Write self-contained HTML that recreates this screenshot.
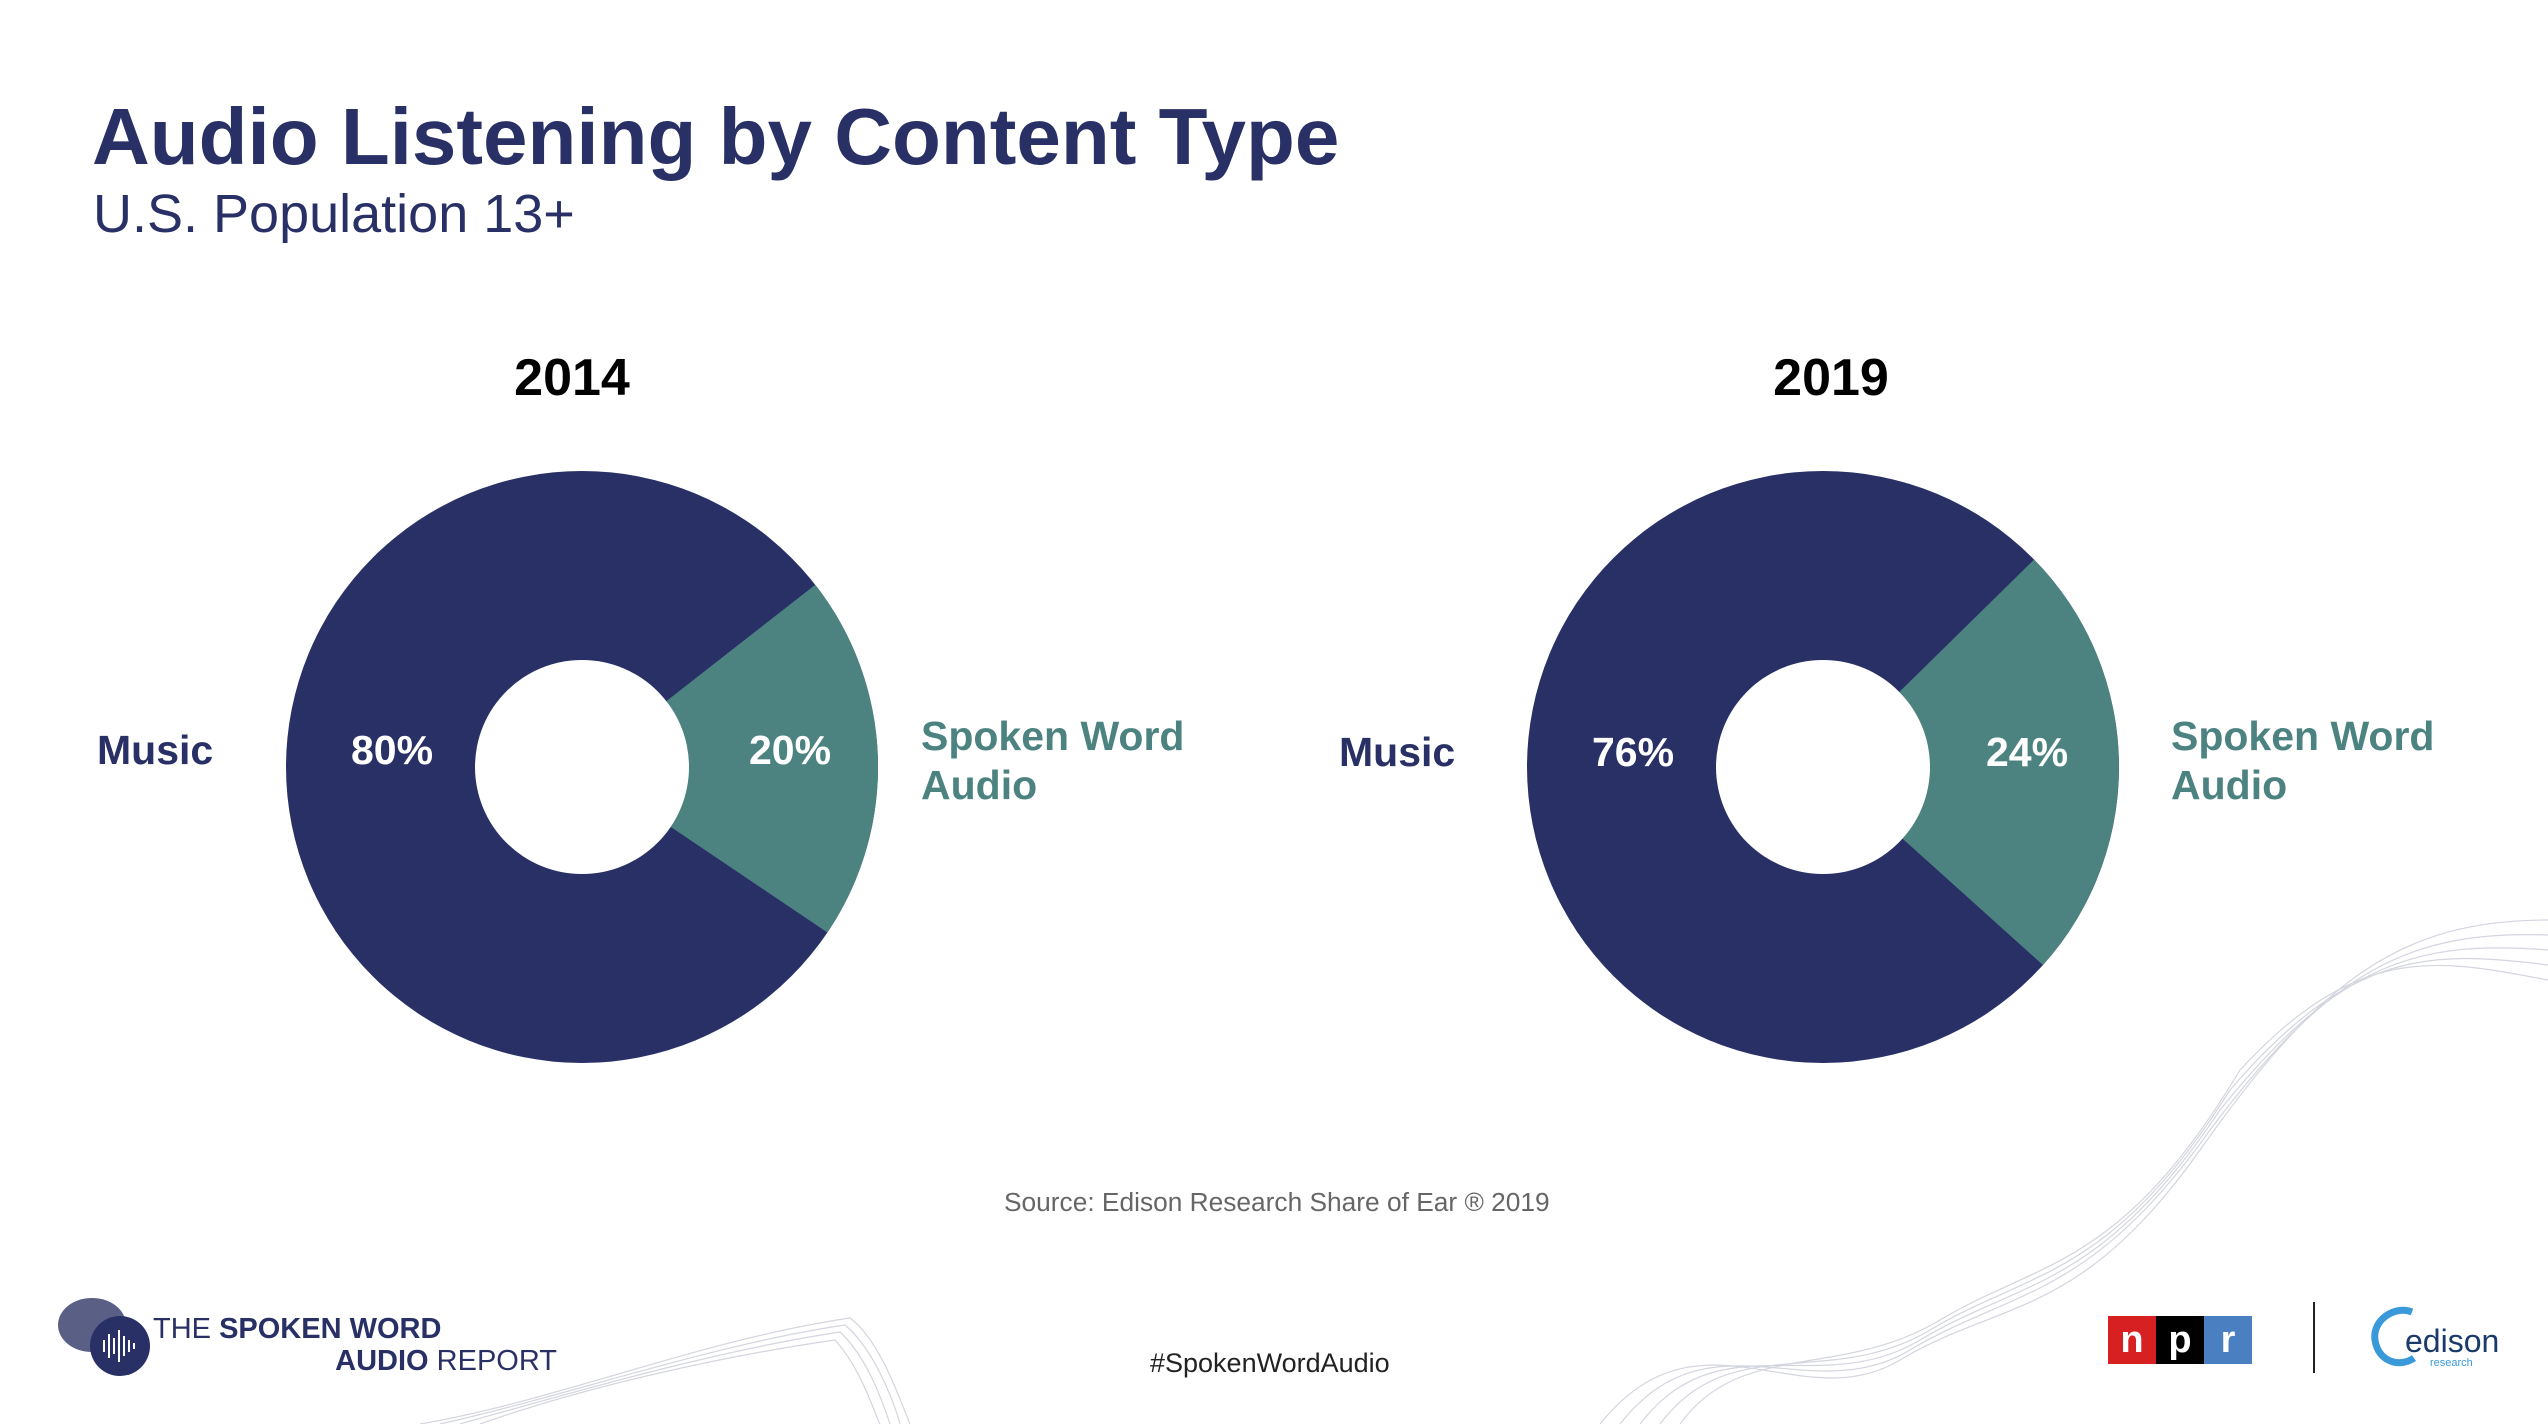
<!DOCTYPE html>
<html><head><meta charset="utf-8"><style>
html,body{margin:0;padding:0;background:#fff;}
body{width:2548px;height:1424px;overflow:hidden;position:relative;font-family:"Liberation Sans",sans-serif;}
</style></head><body>
<svg width="2548" height="1424" viewBox="0 0 2548 1424" xmlns="http://www.w3.org/2000/svg" style="position:absolute;left:0;top:0">
<g fill="none" stroke="#c9cbd8" stroke-width="1.2" opacity="0.8">
<path d="M1600 1424 C1700 1300 1800 1420 1900 1360 C2000 1300 2080 1320 2200 1150 C2320 980 2400 920 2548 920"/>
<path d="M1620 1424 C1710 1310 1810 1410 1910 1350 C2010 1290 2090 1300 2210 1130 C2330 970 2410 930 2548 935"/>
<path d="M1640 1424 C1720 1320 1820 1400 1920 1340 C2020 1280 2100 1290 2220 1110 C2340 960 2420 940 2548 950"/>
<path d="M1660 1424 C1730 1330 1830 1390 1930 1330 C2030 1270 2110 1280 2230 1090 C2350 950 2430 950 2548 965"/>
<path d="M1680 1424 C1740 1340 1840 1380 1940 1320 C2040 1260 2120 1270 2240 1070 C2360 940 2440 960 2548 980"/>
<path d="M420 1424 C560 1400 700 1340 850 1318 C880 1340 900 1400 910 1424"/>
<path d="M440 1424 C570 1395 710 1345 845 1325 C875 1350 895 1405 900 1424"/>
<path d="M460 1424 C580 1390 720 1350 840 1332 C870 1360 885 1410 890 1424"/>
<path d="M480 1424 C590 1385 730 1355 835 1340 C862 1370 875 1415 880 1424"/>
</g>
<circle cx="582" cy="767" r="296" fill="#283066"/>
<path d="M582 767 L815.3 584.7 A296 296 0 0 1 827.4 932.5 Z" fill="#4c8381"/>
<circle cx="582" cy="767" r="107" fill="#fff"/>
<circle cx="1823" cy="767" r="296" fill="#283066"/>
<path d="M1823 767 L2034.1 559.5 A296 296 0 0 1 2042.9 965 Z" fill="#4c8381"/>
<circle cx="1823" cy="767" r="107" fill="#fff"/>

<text x="92" y="164" font-size="80" font-weight="bold" fill="#283066" font-family="Liberation Sans">Audio Listening by Content Type</text>
<text x="93" y="232" font-size="54" fill="#283066" font-family="Liberation Sans">U.S. Population 13+</text>
<text x="572" y="395" font-size="52" font-weight="bold" fill="#000" text-anchor="middle" font-family="Liberation Sans">2014</text>
<text x="1831" y="395" font-size="52" font-weight="bold" fill="#000" text-anchor="middle" font-family="Liberation Sans">2019</text>

<g font-family="Liberation Sans" font-weight="bold" font-size="41">
<text x="97" y="764" fill="#283066">Music</text>
<text x="392" y="764" fill="#fff" text-anchor="middle">80%</text>
<text x="790" y="764" fill="#fff" text-anchor="middle">20%</text>
<text x="921" y="750" fill="#4c8381">Spoken Word</text>
<text x="921" y="799" fill="#4c8381">Audio</text>
<text x="1339" y="766" fill="#283066">Music</text>
<text x="1633" y="766" fill="#fff" text-anchor="middle">76%</text>
<text x="2027" y="766" fill="#fff" text-anchor="middle">24%</text>
<text x="2171" y="750" fill="#4c8381">Spoken Word</text>
<text x="2171" y="799" fill="#4c8381">Audio</text>
</g>
<text x="1004" y="1211" font-size="26.3" fill="#666" font-family="Liberation Sans">Source: Edison Research Share of Ear ® 2019</text>
<text x="1150" y="1372" font-size="27" fill="#222" font-family="Liberation Sans">#SpokenWordAudio</text>

<ellipse cx="92" cy="1325" rx="34" ry="27" fill="#5a5f86"/>
<circle cx="120" cy="1346" r="30" fill="#283066"/>
<g stroke="#fff" stroke-width="2">
<line x1="104" y1="1340" x2="104" y2="1352"/><line x1="109" y1="1334" x2="109" y2="1358"/><line x1="114" y1="1338" x2="114" y2="1354"/><line x1="119" y1="1330" x2="119" y2="1362"/><line x1="124" y1="1336" x2="124" y2="1356"/><line x1="129" y1="1340" x2="129" y2="1352"/><line x1="134" y1="1343" x2="134" y2="1349"/>
</g>
<text x="153" y="1338" font-size="29" fill="#283066" font-family="Liberation Sans">THE <tspan font-weight="bold">SPOKEN WORD</tspan></text>
<text x="557" y="1370" font-size="29" fill="#283066" text-anchor="end" font-family="Liberation Sans"><tspan font-weight="bold">AUDIO</tspan> REPORT</text>

<rect x="2108" y="1316" width="48" height="48" fill="#d62021"/>
<rect x="2156" y="1316" width="48" height="48" fill="#000"/>
<rect x="2204" y="1316" width="48" height="48" fill="#4a7fc1"/>
<g font-family="Liberation Sans" font-weight="bold" font-size="38" fill="#fff" text-anchor="middle">
<text x="2132" y="1352">n</text><text x="2180" y="1352">p</text><text x="2228" y="1352">r</text>
</g>
<line x1="2314" y1="1302" x2="2314" y2="1373" stroke="#222" stroke-width="2"/>
<path d="M2412 1312 C2395 1305 2372 1320 2375 1340 C2378 1362 2400 1368 2414 1358" fill="none" stroke="#3a9ad9" stroke-width="7"/>
<text x="2405" y="1352" font-size="32" fill="#1a3a6a" font-family="Liberation Sans">edison</text>
<text x="2430" y="1366" font-size="11" fill="#3a9ad9" font-family="Liberation Sans">research</text>
</svg>
</body></html>
